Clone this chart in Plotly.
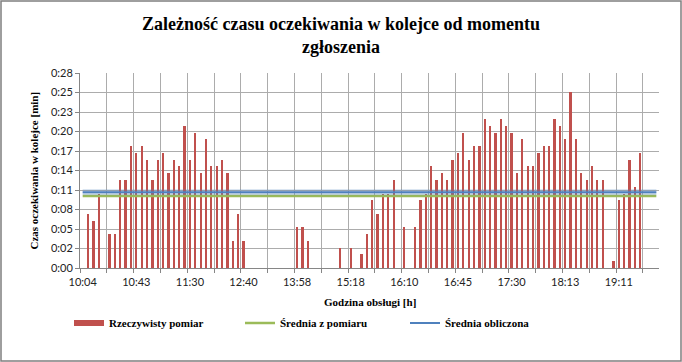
import plotly.graph_objects as go

# Czas oczekiwania w kolejce [s] dla kolejnych zgłoszeń (kategorie 0..107)
czas_oczekiwania_s = [
    0, 8, 7, 11, 0, 5, 5, 13, 13, 18,
    17, 18, 16, 13, 16, 17, 14, 16, 15, 21,
    16, 20, 14, 19, 15, 15, 16, 14, 4, 8,
    4, 0, 0, 0, 0, 0, 0, 0, 0, 0,
    6, 6, 4, 0, 0, 0, 0, 0, 3, 0,
    3, 0, 2, 5, 10, 8, 11, 11, 13, 0,
    6, 0, 6, 10, 11, 15, 13, 14, 13, 16,
    17, 20, 16, 18, 18, 22, 21, 20, 22, 21,
    20, 14, 19, 15, 15, 17, 18, 18, 22, 21,
    19, 26, 19, 14, 13, 15, 13, 13, 0, 1,
    10, 11, 16, 12, 17, 0, 0, 0,
]

# etykiety osi X (co 10. zgłoszenie)
etykiety_godzin = ["10:04", "10:43", "11:30", "12:40", "13:58", "15:18",
                   "16:10", "16:45", "17:30", "18:13", "19:11"]
krok_etykiet = 10

# etykiety osi Y (format m:ss)
etykiety_y = ["0:00", "0:02", "0:05", "0:08", "0:11", "0:14",
              "0:17", "0:20", "0:23", "0:25", "0:28"]
max_y = 28.8

srednia_z_pomiaru = 10.63
srednia_obliczona = 11.17

kategorie = list(range(len(czas_oczekiwania_s)))
n = len(kategorie)
krok_y = max_y / (len(etykiety_y) - 1)

serif = "Liberation Serif"
sans = "Lato"
grid = "#ACACAC"

L, R, T, B = 80, 23, 73, 94
W, H = 682, 362
pw, ph = W - L - R, H - T - B

fig = go.Figure()
fig.add_trace(go.Bar(
    x=kategorie, y=czas_oczekiwania_s, name="Rzeczywisty pomiar", showlegend=False,
    width=0.42, marker=dict(color="#C0504D", line=dict(width=0)),
))
# wpis legendy dla słupków (prostokątny znacznik jak w Excelu)
fig.add_trace(go.Scatter(
    x=[None], y=[None], mode="lines", name="Rzeczywisty pomiar", legend="legend",
    line=dict(color="#C0504D", width=6), hoverinfo="skip",
))
fig.add_trace(go.Scatter(
    x=kategorie, y=[srednia_z_pomiaru] * n, mode="lines", name="Średnia z pomiaru",
    legend="legend2", line=dict(color="#9BBB59", width=2.5),
))
fig.add_trace(go.Scatter(
    x=kategorie, y=[srednia_obliczona] * n, mode="lines", showlegend=False, hoverinfo="skip",
    line=dict(color="rgba(79,129,189,0.28)", width=6),
))
fig.add_trace(go.Scatter(
    x=kategorie, y=[srednia_obliczona] * n, mode="lines", name="Średnia obliczona",
    legend="legend3", line=dict(color="#4F81BD", width=2),
))

leg_font = dict(family=serif, size=11, color="#000000", weight="bold")
leg_y = (H - B - 323) / ph


def legenda(px):
    return dict(orientation="h", x=(px - L) / pw, xanchor="left", y=leg_y,
                yanchor="middle", font=leg_font, itemwidth=30,
                bgcolor="rgba(0,0,0,0)")


fig.update_layout(
    width=W, height=H,
    margin=dict(l=L, r=R, t=T, b=B),
    paper_bgcolor="white", plot_bgcolor="white",
    bargap=0,
    xaxis=dict(
        range=[-0.5, n - 0.5],
        tickmode="array",
        tickvals=list(range(0, n, krok_etykiet))[:len(etykiety_godzin)],
        ticktext=etykiety_godzin,
        ticks="", showgrid=False, zeroline=False,
        showline=True, linecolor="#868686", linewidth=1,
        tickfont=dict(family=sans, size=11, color="#222222"),
        ticklabelstandoff=4,
        minor=dict(tickmode="linear", tick0=-0.5, dtick=5, showgrid=True,
                   gridcolor=grid, gridwidth=1, ticks="outside", ticklen=4,
                   tickcolor="#868686"),
    ),
    yaxis=dict(
        range=[0, max_y],
        tickmode="array",
        tickvals=[i * krok_y for i in range(len(etykiety_y))],
        ticktext=etykiety_y,
        ticks="outside", ticklen=4, tickcolor="#868686",
        showgrid=True, gridcolor=grid, gridwidth=1, zeroline=False,
        showline=True, linecolor="#868686", linewidth=1,
        tickfont=dict(family=sans, size=11, color="#222222"),
    ),
    legend=legenda(69),
    legend2=legenda(240),
    legend3=legenda(405),
    showlegend=True,
    annotations=[
        dict(text="<b>Zależność czasu oczekiwania w kolejce od momentu<br>zgłoszenia</b>",
             xref="paper", yref="paper",
             x=(W / 2 - L) / pw, y=(H - B - 35) / ph, xanchor="center", yanchor="middle",
             showarrow=False, font=dict(family=serif, size=18, color="#000000")),
        dict(text="<b>Godzina obsługi [h]</b>", xref="paper", yref="paper",
             x=0.5, y=(H - B - 302) / ph, xanchor="center", yanchor="middle",
             showarrow=False, font=dict(family=serif, size=11, color="#000000")),
        dict(text="<b>Czas oczekiwania w kolejce [min]</b>", xref="paper", yref="paper",
             x=(33 - L) / pw, y=0.5, xanchor="center", yanchor="middle", textangle=-90,
             showarrow=False, font=dict(family=serif, size=11, color="#000000")),
    ],
    shapes=[dict(type="rect", xref="paper", yref="paper",
                 x0=(-L + 1) / pw, x1=1 + (R - 1) / pw,
                 y0=(-B + 1) / ph, y1=1 + (T - 1) / ph,
                 line=dict(color="#7F7F7F", width=1.5), layer="below")],
)

fig.write_html("out.html", config={"displayModeBar": False},
               post_script="document.body.style.margin='0';document.body.style.overflow='hidden';")
